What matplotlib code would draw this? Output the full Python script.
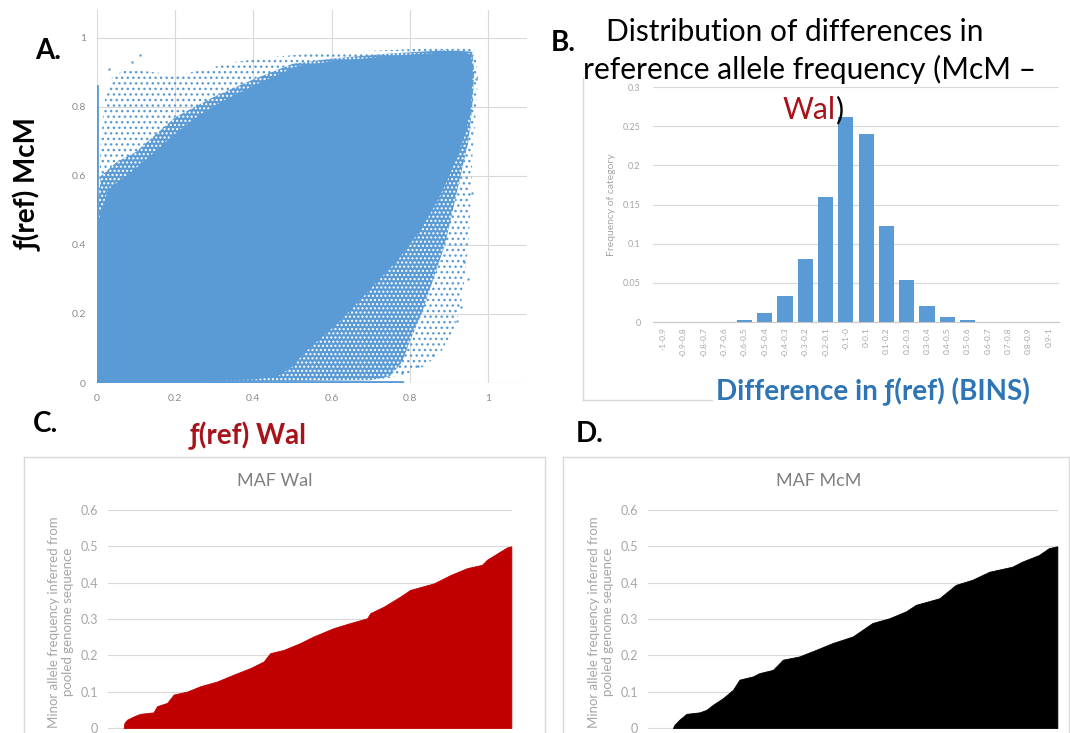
import matplotlib
matplotlib.use("Agg")
import matplotlib.pyplot as plt
from matplotlib.lines import Line2D

plt.rcParams['font.family'] = ['Lato', 'DejaVu Sans']
plt.rcParams['hatch.linewidth'] = 1.0

# ---------------- data ----------------
# Panel A: outline of the solid core of the SNP cloud (f(ref) Wal, f(ref) McM)
dense_x = [0.0, 0.0, 0.03, 0.10, 0.16, 0.21, 0.27, 0.33, 0.42, 0.51, 0.60, 0.70, 0.80, 0.88,
           0.93, 0.955, 0.96, 0.955, 0.94, 0.92, 0.90, 0.87, 0.84, 0.81, 0.77, 0.72, 0.67,
           0.62, 0.57, 0.53, 0.50, 0.46, 0.40, 0.0]
dense_y = [0.0, 0.45, 0.56, 0.62, 0.68, 0.73, 0.78, 0.82, 0.87, 0.915, 0.93, 0.94, 0.95, 0.955,
           0.96, 0.95, 0.90, 0.80, 0.72, 0.66, 0.60, 0.53, 0.47, 0.42, 0.36, 0.30, 0.24,
           0.18, 0.13, 0.09, 0.05, 0.02, 0.012, 0.0]
# outline of the speckled (dense dots) zone
mid_x = [0.0, 0.0, 0.01, 0.05, 0.10, 0.20, 0.30, 0.40, 0.50, 0.60, 0.75, 0.90, 0.96,
         0.965, 0.96, 0.95, 0.93, 0.91, 0.89, 0.86, 0.83, 0.80, 0.78, 0.75, 0.70, 0.0]
mid_y = [0.0, 0.48, 0.60, 0.64, 0.67, 0.77, 0.83, 0.88, 0.925, 0.94, 0.955, 0.965, 0.96,
         0.90, 0.80, 0.70, 0.60, 0.50, 0.40, 0.30, 0.20, 0.12, 0.06, 0.02, 0.008, 0.0]
# outer outline of the sparse fringe of points
fringe_x = [0.0, 0.0, 0.01, 0.02, 0.04, 0.08, 0.15, 0.20, 0.28, 0.35, 0.45, 0.55, 0.65, 0.75, 0.85,
            0.93, 0.965, 0.975, 0.97, 0.96, 0.955, 0.95, 0.94, 0.93, 0.91, 0.88, 0.84, 0.80,
            0.75, 0.70, 0.60, 0.0]
fringe_y = [0.0, 0.45, 0.70, 0.82, 0.89, 0.91, 0.90, 0.89, 0.91, 0.93, 0.945, 0.955, 0.96, 0.965,
            0.97, 0.975, 0.965, 0.90, 0.80, 0.65, 0.50, 0.40, 0.30, 0.22, 0.15, 0.09, 0.05,
            0.03, 0.015, 0.008, 0.005, 0.0]
outlier_x = [0.03, 0.09, 0.11, 0.97, 0.95, 0.93, 0.92, 0.94, 0.86, 0.82, 0.78, 0.96]
outlier_y = [0.91, 0.93, 0.95, 0.88, 0.30, 0.22, 0.18, 0.35, 0.08, 0.05, 0.03, 0.55]
edge_col_y = [0.0, 0.86]          # points piled on f(ref) Wal = 0
floor_row_x = [0.0, 0.78]         # points piled on f(ref) McM = 0

# Panel B: distribution of differences
bins = ["-1-0.9", "-0.9-0.8", "-0.8-0.7", "-0.7-0.6", "-0.6-0.5", "-0.5-0.4", "-0.4-0.3",
        "-0.3-0.2", "-0.2-0.1", "-0.1-0", "0-0.1", "0.1-0.2", "0.2-0.3", "0.3-0.4",
        "0.4-0.5", "0.5-0.6", "0.6-0.7", "0.7-0.8", "0.8-0.9", "0.9-1"]
freq = [0.0, 0.0, 0.0, 0.0, 0.003, 0.012, 0.033, 0.080, 0.160, 0.262, 0.240, 0.122,
        0.053, 0.020, 0.007, 0.002, 0.0006, 0.0, 0.0, 0.0]

# Panel C: sorted MAF, Wal (x = fraction of sorted SNPs)
wal_x = [0.0, 0.002, 0.009, 0.026, 0.043, 0.077, 0.086, 0.112, 0.129, 0.163, 0.198, 0.241, 0.284,
         0.327, 0.361, 0.378, 0.413, 0.456, 0.490, 0.542, 0.585, 0.628, 0.636, 0.671, 0.714,
         0.739, 0.800, 0.843, 0.886, 0.924, 0.937, 0.972, 0.989, 1.0]
wal_y = [0.0, 0.014, 0.023, 0.032, 0.039, 0.043, 0.060, 0.069, 0.092, 0.100, 0.115, 0.128, 0.147,
         0.165, 0.183, 0.206, 0.215, 0.234, 0.252, 0.275, 0.289, 0.302, 0.316, 0.334, 0.362,
         0.380, 0.398, 0.421, 0.440, 0.449, 0.463, 0.486, 0.497, 0.500]
# Panel D: sorted MAF, McM
mcm_x = [0.0, 0.004, 0.017, 0.035, 0.069, 0.087, 0.104, 0.130, 0.156, 0.173, 0.208, 0.225, 0.260,
         0.286, 0.329, 0.372, 0.416, 0.468, 0.519, 0.563, 0.606, 0.632, 0.693, 0.736, 0.779,
         0.823, 0.883, 0.909, 0.952, 0.978, 1.0]
mcm_y = [0.0, 0.009, 0.023, 0.039, 0.043, 0.050, 0.064, 0.082, 0.105, 0.133, 0.142, 0.151, 0.160,
         0.188, 0.197, 0.215, 0.234, 0.252, 0.289, 0.302, 0.321, 0.339, 0.357, 0.394, 0.408,
         0.430, 0.444, 0.458, 0.476, 0.495, 0.500]
maf_ticks = [0.0, 0.1, 0.2, 0.3, 0.4, 0.5, 0.6]
maf_ticklabels = ["0", "0.1", "0.2", "0.3", "0.4", "0.5", "0.6"]
a_ticks = [0.0, 0.2, 0.4, 0.6, 0.8, 1.0]
a_ticklabels = ["0", "0.2", "0.4", "0.6", "0.8", "1"]
b_ticks = [0.0, 0.05, 0.1, 0.15, 0.2, 0.25, 0.3]
b_ticklabels = ["0", "0.05", "0.1", "0.15", "0.2", "0.25", "0.3"]

# ---------------- layout helpers ----------------
W, H = 1070, 733
fig = plt.figure(figsize=(W / 100, H / 100), dpi=100)
fig.patch.set_facecolor('white')


def ax_at(l, t, r, b):
    return fig.add_axes([l / W, 1 - b / H, (r - l) / W, (b - t) / H])


def ftext(x, y, s, **kw):
    return fig.text(x / W, 1 - y / H, s, **kw)


def fline(xs, ys, **kw):
    fig.add_artist(Line2D([x / W for x in xs], [1 - y / H for y in ys],
                          transform=fig.transFigure, **kw))


BLUE = '#5B9BD5'
RED = '#C00000'
DARKRED = '#A8131B'
GRID = '#D9D9D9'

# ---------------- Panel A ----------------
axA = ax_at(97, 10, 527, 383)
axA.set_xlim(0, 1.1)
axA.set_ylim(0, 1.081)
axA.fill(fringe_x, fringe_y, facecolor='none', edgecolor=BLUE, hatch='...', linewidth=0, zorder=2)
axA.fill(mid_x, mid_y, facecolor=BLUE, edgecolor='white', hatch='....', linewidth=0, zorder=3)
axA.fill(dense_x, dense_y, facecolor=BLUE, edgecolor=BLUE, linewidth=1.0, zorder=4)
axA.scatter(outlier_x, outlier_y, s=3, color=BLUE, linewidths=0, zorder=3)
axA.plot([0.0, 0.0], edge_col_y, color=BLUE, lw=2.0, zorder=4)
axA.plot(floor_row_x, [0.004, 0.004], color=BLUE, lw=2.0, zorder=4)
axA.set_xticks(a_ticks)
axA.set_xticklabels(a_ticklabels)
axA.set_yticks(a_ticks)
axA.set_yticklabels(a_ticklabels)
axA.grid(True, color=GRID, lw=0.8)
axA.set_axisbelow(True)
for s in axA.spines.values():
    s.set_visible(False)
axA.tick_params(length=0, labelsize=7.5, labelcolor='#8C8C8C', pad=8)

ftext(48, 51, "A.", fontsize=20, fontweight='bold', ha='center', va='center')
ftext(29, 185, "ƒ(ref) McM", fontsize=20, fontweight='bold', ha='center', va='center',
      rotation=90)
ftext(248, 436, "ƒ(ref) Wal", fontsize=20, fontweight='bold', ha='center', va='center',
      color=DARKRED)

# ---------------- Panel B ----------------
axB = ax_at(653, 87, 1059, 322)
axB.bar(range(len(bins)), freq, width=0.75, color=BLUE, zorder=3)
axB.set_xlim(-0.5, len(bins) - 0.5)
axB.set_ylim(0, 0.3)
axB.set_yticks(b_ticks)
axB.set_yticklabels(b_ticklabels)
axB.set_xticks(range(len(bins)))
axB.set_xticklabels(bins, rotation=90, va='top')
axB.grid(True, axis='y', color=GRID, lw=0.8)
axB.set_axisbelow(True)
for s in axB.spines.values():
    s.set_visible(False)
axB.spines['bottom'].set_visible(True)
axB.spines['bottom'].set_color('#C8C8C8')
axB.tick_params(axis='y', length=0, labelsize=6.5, labelcolor='#A6A6A6', pad=9)
axB.tick_params(axis='x', length=0, labelsize=6, labelcolor='#A6A6A6', pad=4)
axB.set_ylabel("Frequency of category", fontsize=7.5, color='#A6A6A6', labelpad=5)

# chart frame (left and bottom) of panel B
fline([583, 583], [78, 400], color='#D9D9D9', lw=1)
fline([583, 712], [400, 400], color='#D9D9D9', lw=1)

ftext(563, 43, "B.", fontsize=20, fontweight='bold', ha='center', va='center')
ftext(795, 32, "Distribution of differences in", fontsize=21.5, ha='center', va='center')
ftext(810, 69, "reference allele frequency (McM \u2013", fontsize=21.5, ha='center', va='center')
t_wal = ftext(783, 110, "Wal", fontsize=21.5, ha='left', va='center', color=DARKRED)
fig.canvas.draw()
bb = t_wal.get_window_extent(renderer=fig.canvas.get_renderer())
fig.text(bb.x1 / W, 1 - 110 / H, ")", fontsize=21.5, ha='left', va='center')
ftext(873, 392, "Difference in ƒ(ref) (BINS)", fontsize=20, fontweight='bold',
      ha='center', va='center', color='#2E75B6')


# ---------------- Panels C and D ----------------
def maf_panel(box, xs, ys, color, title, title_x, ylab_x, frame):
    l, t, r, b, xlo = box
    ax = ax_at(l, t, r, b)
    ax.fill_between(xs, ys, 0, color=color, linewidth=0.6, edgecolor=color, zorder=3)
    ax.set_xlim(xlo, 1.0017)
    ax.set_ylim(-0.0138, 0.6)
    ax.set_yticks(maf_ticks)
    ax.set_yticklabels(maf_ticklabels)
    ax.set_xticks([])
    ax.grid(True, axis='y', color=GRID, lw=0.8)
    ax.set_axisbelow(True)
    for s in ax.spines.values():
        s.set_visible(False)
    ax.tick_params(axis='y', length=0, labelsize=9, labelcolor='#A6A6A6', pad=7)
    ax.patch.set_alpha(0)
    ftext(title_x, 481, title, fontsize=13, color='#7F7F7F', ha='center', va='center')
    ftext(ylab_x, 622, "Minor allele frequency inferred from\npooled genome sequence",
          fontsize=9.5, color='#A6A6A6', ha='center', va='center', rotation=90,
          linespacing=1.15)
    fl, ft, fr = frame
    fline([fl, fl], [ft, H + 5], color='#D9D9D9', lw=1)
    fline([fl, fr], [ft, ft], color='#D9D9D9', lw=1)
    fline([fr, fr], [ft, H + 5], color='#D9D9D9', lw=1)
    return ax


maf_panel((108, 510, 512, 733, -0.0404), wal_x, wal_y, RED, "MAF Wal", 275, 61, (24, 457, 545))
maf_panel((648, 510, 1058, 733, -0.065), mcm_x, mcm_y, 'black', "MAF McM", 819, 601,
          (563, 457, 1069))

ftext(46, 424, "C.", fontsize=20, fontweight='bold', ha='center', va='center')
ftext(590, 434, "D.", fontsize=20, fontweight='bold', ha='center', va='center')

fig.savefig("out.png", dpi=100, facecolor='white')
